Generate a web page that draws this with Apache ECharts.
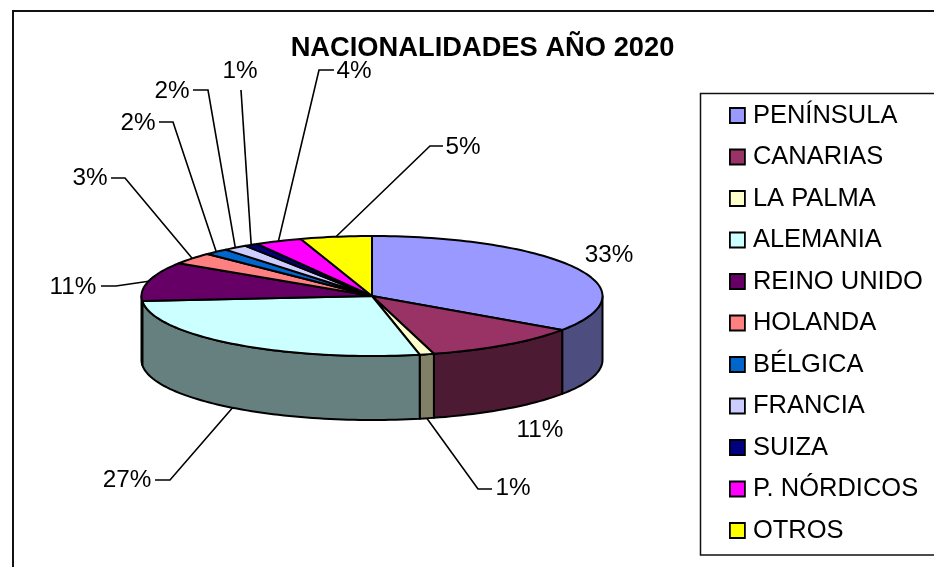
<!DOCTYPE html>
<html>
<head>
<meta charset="utf-8">
<script src="https://cdn.jsdelivr.net/npm/echarts@6/dist/echarts.min.js"></script>
<style>html,body{margin:0;padding:0;background:#fff}#c{width:934px;height:567px}</style>
</head>
<body>
<div id="c"></div>
<script>
// --- data ---
const titleText = 'NACIONALIDADES AÑO 2020';
const categories = ['PENÍNSULA','CANARIAS','LA PALMA','ALEMANIA','REINO UNIDO','HOLANDA','BÉLGICA','FRANCIA','SUIZA','P. NÓRDICOS','OTROS'];
const shares = [33, 10.9, 1, 27.4, 11, 3.3, 1.8, 1.8, 1, 3.5, 5.3];
const topColors = ['#9999FF','#993366','#FFFFCC','#CCFFFF','#660066','#FF8080','#0066CC','#CCCCFF','#000080','#FF00FF','#FFFF00'];
const sideColors = ['#4D4D80','#4D1A33','#808066','#668080','#330033','#804040','#003366','#666680','#000040','#800080','#808000'];

// --- layout (label text centre, optional leader elbow) ---
const labelCentres = [[609,255.5],[540,430],[513,488],[127,480],[73,287],[90,178],[138,123],[172,91],[240,71],[354,71],[463,147]];
const leaderElbows = [null,null,[[492,489],[478,489]],[[155,480],[170,480]],[[101,286],[116,286]],[[111,178],[125,178]],[[159,122],[173,122]],[[193,90],[208,90]],[[241,90]],[[334,70],[319,70]],[[443,146],[430,146]]];
const pie = {cx:372, cy:296, rx:230.5, ry:60, depth:64, skew:6.5};
const FONT = '"Liberation Sans", Arial, sans-serif';

const total = shares.reduce((a,b)=>a+b,0);
const view = deg => deg + pie.skew*Math.sin(deg*Math.PI/360); // 3-D view distortion of the tilted disc
const rim = (deg, dz) => {
  const r = deg*Math.PI/180;
  return [pie.cx + pie.rx*Math.sin(r), pie.cy - pie.ry*Math.cos(r) + (dz||0)];
};
const arc = (a,b,dz) => {
  const pts = [];
  const n = Math.max(2, Math.ceil((b-a)/1.5));
  for (let i=0;i<=n;i++) pts.push(rim(a+(b-a)*i/n, dz));
  return pts;
};

function renderSlice(index, api){
  const before = shares.slice(0,index).reduce((a,b)=>a+b,0);
  const value = api.value(0);
  const a = view(before/total*360), b = view((before+value)/total*360);
  const mid = view((before+value/2)/total*360);
  const children = [];
  const line = {stroke:'#000', lineWidth:2, lineJoin:'round'};
  // visible outer wall (front half only)
  const s = Math.max(a,90), e = Math.min(b,270);
  if (e > s) {
    children.push({type:'polygon', shape:{points: arc(s,e,0).concat(arc(s,e,pie.depth).reverse())},
      style:Object.assign({fill:sideColors[index]},line)});
  }
  // top face
  children.push({type:'polygon', shape:{points:[[pie.cx,pie.cy]].concat(arc(a,b,0))},
    style:Object.assign({fill:topColors[index]},line)});
  // leader line, anchored on the slice's outer edge
  const elbow = leaderElbows[index];
  if (elbow) {
    const front = mid>90 && mid<270;
    children.push({type:'polyline', z2:5, shape:{points: elbow.concat([rim(mid, front?pie.depth:0)])},
      style:{stroke:'#000', lineWidth:1.6, fill:null}});
  }
  // percentage label
  const lc = labelCentres[index];
  children.push({type:'text', z2:6, style:{text:Math.round(value/total*100)+'%', x:lc[0], y:lc[1],
    align:'center', verticalAlign:'middle', fontSize:24.3, fontFamily:FONT, fill:'#000'}});
  return {type:'group', children};
}

const series = categories.map((name,i)=>({
  type:'custom', name, coordinateSystem:'none', animation:false, silent:true,
  itemStyle:{color:topColors[i]},
  data:[[shares[i]]],
  renderItem:(p,api)=>renderSlice(i,api)
}));

const chart = echarts.init(document.getElementById('c'),null,{renderer:'canvas'});
chart.setOption({
  animation:false,
  backgroundColor:'#fff',
  title:{text:titleText, left:482.5, top:35, textAlign:'center',
    textStyle:{fontFamily:FONT, fontSize:27.3, fontWeight:'bold', color:'#000'}, padding:0},
  legend:{orient:'vertical', left:729, top:102.5, padding:0, itemWidth:15, itemHeight:15, itemGap:15.5,
    icon:'rect', selectedMode:false, data:categories,
    itemStyle:{borderColor:'#000', borderWidth:1.8},
    textStyle:{fontFamily:FONT, fontSize:25.5, color:'#000', padding:[5,0,0,3]}},
  graphic:[
    {type:'rect', z:-10, silent:true, shape:{x:13,y:11,width:960,height:600}, style:{fill:'#fff',stroke:'#111',lineWidth:2}},
    {type:'rect', z:-9, silent:true, shape:{x:700.5,y:93.5,width:300,height:461.5}, style:{fill:'#fff',stroke:'#111',lineWidth:1.5}}
  ],
  series
});
</script>
</body>
</html>
